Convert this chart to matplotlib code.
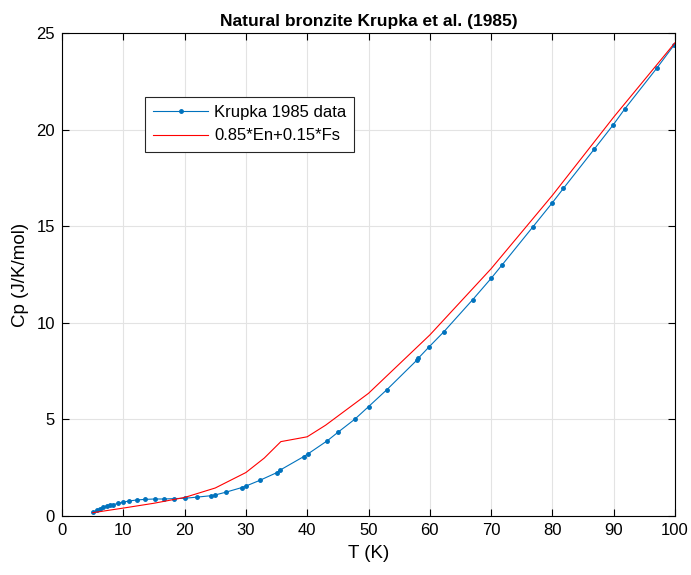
import matplotlib
matplotlib.use("Agg")
import matplotlib.pyplot as plt

# ============================================================
#  数据
# ============================================================
T_data = [5.1, 5.7, 6.2, 6.7, 7.3, 7.8, 8.4, 9.2, 10.0, 11.0, 12.2, 13.5,
          15.1, 16.6, 18.3, 20.1, 22.1, 24.3, 25.0, 26.7, 29.3, 30.0, 32.3,
          35.0, 35.6, 39.4, 40.1, 43.3, 45.0, 47.8, 50.0, 53.0, 57.9, 58.1,
          59.9, 62.3, 67.0, 70.0, 71.8, 76.8, 79.9, 81.8, 86.8, 89.9, 91.8,
          97.0, 99.8]
Cp_data = [0.19, 0.29, 0.38, 0.47, 0.52, 0.55, 0.59, 0.66, 0.72, 0.78, 0.83,
           0.86, 0.88, 0.88, 0.90, 0.92, 0.98, 1.05, 1.09, 1.23, 1.47, 1.55,
           1.85, 2.24, 2.38, 3.07, 3.21, 3.90, 4.33, 5.02, 5.66, 6.54, 8.07,
           8.16, 8.76, 9.54, 11.2, 12.3, 13.0, 14.96, 16.18, 16.96, 18.98,
           20.24, 21.07, 23.17, 24.36]

T_mix = [5, 10, 15, 20, 25, 30, 33, 35.7, 40, 43, 50, 60, 70, 80, 90, 100]
Cp_mix = [0.17, 0.41, 0.66, 0.96, 1.45, 2.25, 3.0, 3.85, 4.1, 4.7, 6.35,
          9.37, 12.8, 16.6, 20.65, 24.5]

plt.rcParams["font.family"] = ["Liberation Sans", "DejaVu Sans"]

fig = plt.figure(figsize=(6.91, 5.75), dpi=100)
ax = fig.add_axes([0.0897, 0.1026, 0.8872, 0.84])

ax.plot(T_data, Cp_data, color="#0072BD", linewidth=0.8, marker=".",
        markersize=5, label="Krupka 1985 data")
ax.plot(T_mix, Cp_mix, color="#FF0000", linewidth=0.8, label="0.85*En+0.15*Fs")

ax.set_xlim(0, 100)
ax.set_ylim(0, 25)
ax.set_xticks(range(0, 101, 10))
ax.set_yticks(range(0, 26, 5))

ax.set_title("Natural bronzite Krupka et al. (1985)", fontsize=12.5,
             fontweight="bold", pad=5)
ax.set_xlabel("T (K)", fontsize=13.5, labelpad=5)
ax.set_ylabel("Cp (J/K/mol)", fontsize=13.5, labelpad=5)

ax.tick_params(axis="both", direction="in", top=True, right=True,
               labelsize=12, length=5, width=0.8, pad=5)
ax.grid(True, color="#E3E3E3", linewidth=0.8)
ax.set_axisbelow(True)
for spine in ax.spines.values():
    spine.set_linewidth(0.8)

leg = ax.legend(loc="upper left", bbox_to_anchor=(0.135, 0.868),
                fontsize=12, fancybox=False, framealpha=1,
                edgecolor="#262626", borderaxespad=0, handlelength=3.3,
                handletextpad=0.35, borderpad=0.5, labelspacing=0.5)
leg.get_frame().set_linewidth(0.8)

plt.savefig("out.png", dpi=100)
